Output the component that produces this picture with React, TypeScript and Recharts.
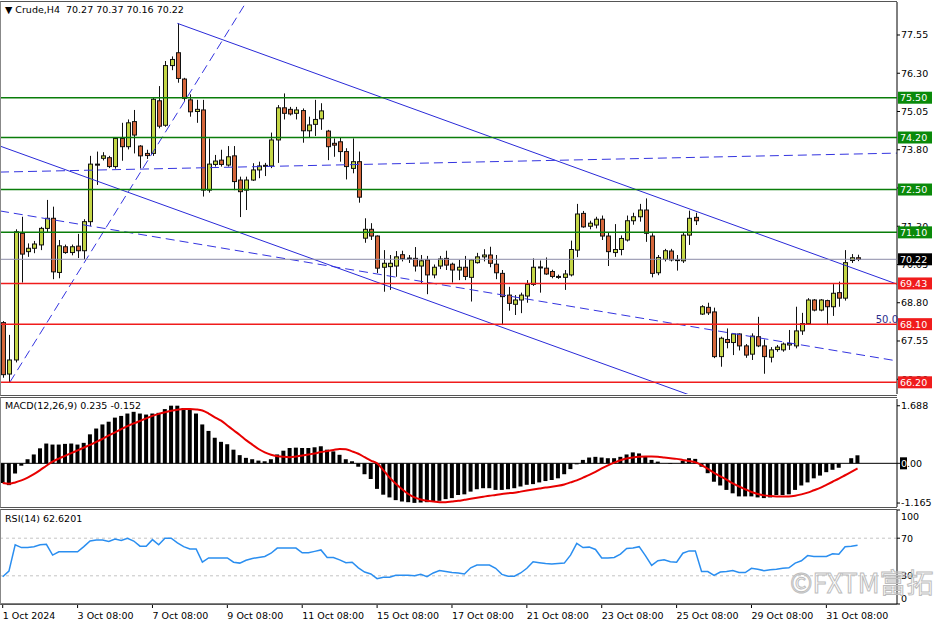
import React from 'react';
import {
  ComposedChart,
  Bar,
  Line,
  XAxis,
  YAxis,
  ReferenceLine,
  ReferenceDot,
} from 'recharts';

const FONT = '"DejaVu Sans", Tahoma, sans-serif';
const W = 936;
const AXIS_W = 39;
const XMIN = -0.433;
const XMAX = 143.32;
const PMIN = 65.818;
const PMAX = 78.628;

const BULL = '#c4d646';
const BEAR = '#d4663a';

// H4 candles, 1 Oct 2024 -> 1 Nov 2024
const opens = [
  68.15, 66.47, 66.93, 71.07, 70.47, 70.58, 70.69, 71.23, 71.56, 69.79,
  70.63, 70.44, 70.65, 70.5, 71.45, 73.33, 73.52, 73.54, 73.25, 74.17,
  73.9, 74.72, 73.92, 73.68, 73.68, 75.4, 74.6, 76.55, 76.97, 76.11,
  75.43, 75.05, 75.1, 72.48, 73.32, 73.46, 73.3, 73.6, 72.81, 72.48,
  72.81, 73.14, 73.27, 73.27, 74.12, 75.17, 75.12, 74.99, 75.08, 74.42,
  74.63, 74.81, 74.41, 74.01, 74.06, 73.74, 73.19, 73.41, 70.91, 71.2,
  70.98, 69.96, 69.98, 70.0, 70.37, 70.25, 70.25, 70.0, 70.2, 69.71,
  70.0, 70.25, 70.06, 69.87, 69.96, 69.63, 70.11, 70.3, 70.36, 70.06,
  69.76, 69.05, 68.75, 68.89, 69.02, 69.4, 69.96, 69.93, 69.82, 69.66,
  69.63, 69.71, 70.52, 71.72, 71.3, 71.34, 71.53, 70.98, 70.44, 70.54,
  70.85, 71.48, 71.61, 71.83, 70.98, 69.78, 70.22, 70.49, 70.2, 70.17,
  71.01, 71.59, 68.43, 68.65, 68.5, 67.04, 67.6, 67.5, 67.78, 67.39,
  67.12, 67.69, 67.39, 67.02, 67.27, 67.26, 67.42, 67.39, 67.88, 68.12,
  68.89, 68.56, 68.87, 68.67, 69.13, 68.95, 70.18, 70.27,
];
const highs = [
  68.2, 67.75, 71.2, 71.61, 70.74, 70.82, 71.28, 72.16, 71.94, 70.85,
  70.7, 70.7, 71.05, 71.53, 73.6, 73.74, 73.72, 73.6, 74.2, 74.68,
  74.79, 75.1, 73.95, 73.8, 75.5, 75.88, 76.7, 76.85, 77.93, 76.15,
  75.61, 75.43, 75.43, 74.17, 73.63, 73.8, 73.92, 73.92, 72.92, 72.92,
  73.36, 73.41, 73.37, 74.36, 75.26, 75.64, 75.2, 75.2, 75.15, 74.88,
  75.43, 75.32, 74.45, 74.17, 74.2, 73.85, 74.17, 73.74, 71.56, 71.4,
  71.0, 70.52, 70.36, 70.49, 70.5, 70.36, 70.62, 70.36, 70.33, 70.05,
  70.33, 70.5, 70.11, 70.2, 70.33, 70.22, 70.43, 70.55, 70.63, 70.36,
  69.87, 69.32, 69.05, 69.13, 69.54, 70.25, 70.18, 70.28, 69.88, 69.72,
  69.87, 70.83, 72.03, 71.8, 71.48, 71.61, 71.65, 71.08, 71.37, 71.0,
  71.65, 71.74, 72.03, 72.21, 71.07, 70.36, 70.56, 70.56, 70.36, 71.1,
  71.81, 71.74, 68.72, 68.8, 68.64, 67.69, 67.96, 67.8, 67.8, 67.45,
  67.8, 68.34, 67.6, 67.35, 67.42, 67.5, 67.91, 68.67, 68.47, 68.95,
  68.92, 68.92, 68.9, 69.41, 69.49, 70.52, 70.39, 70.37,
];
const lows = [
  66.35, 66.2, 66.85, 69.46, 70.3, 70.42, 70.52, 71.08, 69.57, 69.6,
  70.4, 70.35, 70.26, 70.22, 71.3, 72.65, 73.45, 73.2, 73.18, 73.44,
  73.81, 73.68, 73.19, 73.5, 73.6, 74.5, 74.55, 76.4, 75.99, 75.4,
  74.88, 74.68, 72.27, 72.4, 73.25, 73.25, 73.25, 72.48, 71.6, 71.83,
  72.78, 72.87, 72.94, 73.2, 73.37, 74.79, 74.92, 74.79, 74.03, 74.2,
  74.25, 74.45, 73.46, 73.57, 73.41, 72.83, 73.03, 72.07, 70.76, 70.85,
  69.77, 69.16, 69.22, 69.65, 70.15, 70.1, 69.82, 69.44, 69.08, 69.6,
  69.9, 69.87, 69.46, 69.54, 69.54, 68.84, 70.08, 70.15, 69.96, 69.57,
  68.07, 68.54, 68.4, 68.46, 68.8, 69.35, 69.13, 69.71, 69.6, 69.58,
  69.22, 69.66, 70.29, 71.25, 71.2, 71.23, 70.85, 70.0, 70.3, 70.35,
  70.8, 71.35, 71.45, 70.79, 69.63, 69.7, 70.15, 70.15, 69.85, 70.1,
  70.69, 71.34, 68.4, 68.4, 66.99, 66.71, 67.31, 67.09, 67.24, 67.0,
  66.93, 67.35, 66.48, 66.85, 67.2, 67.2, 67.26, 67.31, 67.75, 68.1,
  68.52, 68.52, 68.07, 68.37, 68.67, 68.87, 70.1, 70.16,
];
const closes = [
  66.45, 66.93, 71.12, 70.39, 70.58, 70.72, 71.23, 71.56, 69.81, 70.66,
  70.44, 70.63, 70.5, 71.45, 73.33, 73.3, 73.6, 73.25, 74.17, 73.9,
  74.68, 74.28, 73.6, 73.61, 75.45, 74.57, 76.55, 76.75, 76.13, 75.48,
  75.04, 75.12, 72.48, 73.33, 73.43, 73.32, 73.57, 72.76, 72.43, 72.81,
  73.14, 73.27, 73.29, 74.12, 75.17, 74.99, 74.97, 75.1, 74.42, 74.61,
  74.79, 75.07, 73.9, 73.95, 73.74, 73.25, 73.41, 72.25, 71.2, 70.98,
  69.93, 70.09, 70.09, 70.3, 70.24, 70.26, 70.0, 70.17, 69.71, 69.96,
  70.23, 70.03, 69.87, 69.96, 69.66, 70.2, 70.3, 70.36, 70.09, 69.78,
  69.0, 68.78, 68.89, 69.05, 69.4, 69.96, 69.97, 69.74, 69.66, 69.64,
  69.74, 70.54, 71.7, 71.28, 71.4, 71.53, 70.98, 70.47, 70.54, 70.9,
  71.48, 71.61, 71.83, 71.07, 69.76, 70.28, 70.5, 70.2, 70.21, 71.01,
  71.56, 71.48, 68.67, 68.47, 67.04, 67.64, 67.5, 67.78, 67.39, 67.09,
  67.71, 67.39, 67.04, 67.26, 67.35, 67.45, 67.47, 67.88, 68.12, 68.89,
  68.56, 68.89, 68.67, 69.11, 68.95, 70.11, 70.27, 70.22,
];

// MACD(12,26,9): main (histogram) and signal
const macdMain = [
  -0.58, -0.64, -0.3, -0.07, 0.12, 0.26, 0.44, 0.58, 0.55, 0.55,
  0.57, 0.58, 0.55, 0.6, 0.85, 1.02, 1.14, 1.22, 1.34, 1.39,
  1.46, 1.51, 1.46, 1.43, 1.46, 1.48, 1.59, 1.69, 1.69, 1.62,
  1.58, 1.46, 1.14, 0.95, 0.75, 0.63, 0.56, 0.4, 0.24, 0.16,
  0.12, 0.08, 0.06, 0.12, 0.26, 0.37, 0.45, 0.46, 0.45, 0.45,
  0.47, 0.5, 0.4, 0.35, 0.25, 0.12, 0.06, -0.1, -0.32, -0.46,
  -0.75, -0.92, -1.0, -1.08, -1.12, -1.14, -1.16, -1.15, -1.14, -1.12,
  -1.1, -1.05, -1.02, -0.93, -0.91, -0.83, -0.76, -0.73, -0.73, -0.78,
  -0.78, -0.76, -0.73, -0.68, -0.63, -0.61, -0.56, -0.52, -0.49, -0.44,
  -0.32, -0.17, -0.03, 0.1, 0.17, 0.19, 0.17, 0.15, 0.15, 0.19,
  0.26, 0.32, 0.29, 0.19, 0.1, 0.05, 0.0, -0.02, 0.0, 0.07,
  0.15, 0.13, -0.1, -0.29, -0.54, -0.65, -0.78, -0.88, -0.97, -0.97,
  -0.97, -1.0, -1.02, -1.0, -0.93, -0.93, -0.91, -0.78, -0.65, -0.56,
  -0.44, -0.36, -0.26, -0.19, -0.13, 0.0, 0.15, 0.235,
];
const macdSignal = [
  -0.58, -0.6, -0.56, -0.5, -0.42, -0.32, -0.2, -0.07, 0.05, 0.14,
  0.22, 0.3, 0.38, 0.46, 0.54, 0.63, 0.72, 0.82, 0.91, 1.0,
  1.09, 1.17, 1.24, 1.32, 1.39, 1.45, 1.5, 1.54, 1.57, 1.59,
  1.59, 1.58, 1.55, 1.46, 1.35, 1.25, 1.11, 0.97, 0.83, 0.68,
  0.55, 0.42, 0.32, 0.25, 0.21, 0.19, 0.18, 0.2, 0.23, 0.26,
  0.29, 0.33, 0.36, 0.39, 0.42, 0.41, 0.35, 0.28, 0.18, 0.08,
  0.0, -0.2, -0.42, -0.6, -0.76, -0.9, -1.0, -1.06, -1.1, -1.12,
  -1.14, -1.14, -1.12, -1.1, -1.07, -1.04, -1.01, -0.98, -0.95, -0.93,
  -0.9, -0.88, -0.86, -0.83, -0.8, -0.77, -0.74, -0.71, -0.69, -0.66,
  -0.62, -0.56, -0.5, -0.42, -0.34, -0.25, -0.15, -0.06, 0.02, 0.09,
  0.14, 0.17, 0.19, 0.2, 0.2, 0.19, 0.17, 0.15, 0.13, 0.1,
  0.07, 0.03, -0.05, -0.16, -0.28, -0.38, -0.48, -0.59, -0.68, -0.76,
  -0.84, -0.9, -0.94, -0.96, -0.97, -0.97, -0.97, -0.95, -0.91, -0.86,
  -0.79, -0.72, -0.63, -0.54, -0.45, -0.35, -0.25, -0.152,
];

// RSI(14)
const rsiValues = [
  29, 35, 63, 60, 60, 61, 63, 63.5, 52, 55.5,
  55.5, 55.5, 55.5, 61, 67, 68, 68, 66.5, 69, 67.5,
  70, 67, 61.5, 61.5, 68.5, 63, 70, 70, 65, 61,
  58.5, 58.5, 44.5, 49, 49, 49, 49, 44.5, 43.5, 46.5,
  48.5, 49.5, 50.5, 54, 59.5, 59.5, 59.5, 59.5, 54.5, 54.5,
  56, 57.5, 49.5, 49.5, 47, 44, 44.5, 38.5, 34, 32,
  27, 28.5, 28.5, 30.5, 30.5, 30.5, 30, 31.5, 29, 33,
  35.5, 34.5, 33.5, 33, 32, 38.5, 41.5, 41.5, 41.5, 38,
  31.5, 29.5, 29.5, 33, 38, 45, 44, 43, 42.5, 43,
  43.5, 52, 64.5, 60, 60.5, 58, 49, 49, 49.5, 53,
  59, 59.5, 61, 51.5, 41, 46, 47, 45, 44.5, 54,
  56.5, 56.5, 34.5, 34.5, 30.5, 34, 34.5, 35.5, 33.5, 33.5,
  38, 37, 35.5, 36.5, 37, 38, 38.5, 43.5, 46, 51.5,
  50.5, 50.5, 50.5, 53.5, 53, 61, 61.5, 62.62,
];

const timeLabels = [
  '1 Oct 2024', '3 Oct 08:00', '7 Oct 08:00', '9 Oct 08:00', '11 Oct 08:00', '15 Oct 08:00',
  '17 Oct 08:00', '21 Oct 08:00', '23 Oct 08:00', '25 Oct 08:00', '29 Oct 08:00', '31 Oct 08:00',
];
const LABEL_STEP = 12;

const priceTicks = [77.55, 76.3, 75.05, 73.8, 72.55, 71.3, 70.05, 68.8, 67.55, 66.3];
const resistance = [75.5, 74.2, 72.5, 71.1];
const support = [69.43, 68.1, 66.2];
const bid = closes[closes.length - 1];

// trend lines as [bar index, price] end points
const solidTrends = [
  [[28, 77.93], [143.3, 69.41]],
  [[-0.43, 73.92], [143.3, 63.34]],
];
const dashedTrends = [
  [[-0.43, 71.8], [143.3, 66.9]],
  [[-0.43, 73.07], [143.3, 73.69]],
  [[1.17, 66.21], [41, 79.27]],
];
const fibMark = { i: 141.7, p: 68.27, text: '50.0' };

const macdTicks = [1.688, 0, -1.165];
const rsiTicks = [100, 70, 30, 0];

const candles = opens.map((o, i) => ({
  i,
  o,
  h: highs[i],
  l: lows[i],
  c: closes[i],
  range: [lows[i], highs[i]],
}));
const macdData = macdMain.map((v, i) => ({ i, hist: v, sig: macdSignal[i] }));
const rsiData = rsiValues.map((v, i) => ({ i, rsi: v }));

const Candle = (props: any) => {
  const { x, y, width, height, payload } = props;
  if (!payload) return null;
  const top = Math.min(y, y + height);
  const span = Math.abs(height);
  const { o, h, l, c } = payload;
  const k = h - l > 0 ? span / (h - l) : 0;
  const yo = top + (h - o) * k;
  const yc = top + (h - c) * k;
  const cx = Math.round(x + width / 2) + 0.5;
  const bTop = Math.min(yo, yc);
  const bH = Math.max(Math.abs(yo - yc), 1);
  return (
    <g>
      <line x1={cx} x2={cx} y1={top} y2={top + span} stroke="#111" strokeWidth={1} />
      <rect x={cx - 2} y={bTop} width={4} height={bH} fill={c >= o ? BULL : BEAR} stroke="#111" strokeWidth={1} />
    </g>
  );
};

const LevelTag = (props: any) => {
  const { viewBox, text, bg } = props;
  if (!viewBox) return null;
  const xx = viewBox.x + viewBox.width + 1;
  const yy = viewBox.y;
  return (
    <g>
      <rect x={xx} y={yy - 6} width={34} height={12} fill={bg} />
      <text x={xx + 2} y={yy} dy="0.36em" fill="#fff" fontSize={9.5} fontFamily={FONT}>
        {text}
      </text>
    </g>
  );
};

const PriceTick = (props: any) => {
  const { x, y, payload } = props;
  return (
    <text x={x} y={y} dy="0.36em" textAnchor="start" fontSize={9.5} fontFamily={FONT} fill="#000">
      {Number(payload.value).toFixed(2)}
    </text>
  );
};

const MacdTick = (props: any) => {
  const { x, y, payload } = props;
  const v = Number(payload.value);
  if (v === 0) {
    return (
      <g>
        <rect x={x - 1} y={y - 6} width={7} height={12} fill="#000" />
        <text x={x} y={y} dy="0.36em" textAnchor="start" fontSize={9.5} fontFamily={FONT} fill="#000">
          <tspan fill="#fff">0</tspan>.00
        </text>
      </g>
    );
  }
  return (
    <text x={x} y={y} dy="0.36em" textAnchor="start" fontSize={9.5} fontFamily={FONT} fill="#000">
      {v.toFixed(3)}
    </text>
  );
};

const RsiTick = (props: any) => {
  const { x, y, payload } = props;
  const v = Number(payload.value);
  const shift = v >= 100 ? 7 : v <= 0 ? -5 : 0;
  return (
    <text x={x} y={y + shift} dy="0.36em" textAnchor="start" fontSize={9.5} fontFamily={FONT} fill="#000">
      {v}
    </text>
  );
};

const TimeTick = (props: any) => {
  const { x, y, payload } = props;
  return (
    <text x={x} y={y + 9} textAnchor="start" fontSize={9.5} fontFamily={FONT} fill="#000">
      {timeLabels[Math.round(payload.value / LABEL_STEP)]}
    </text>
  );
};

const boxStyle = (top: number, height: number): React.CSSProperties => ({
  position: 'absolute',
  left: 0,
  top,
  width: 896,
  height,
  borderTop: '1px solid #555',
  borderLeft: '1px solid #888',
  borderBottom: '1px solid #555',
  pointerEvents: 'none',
});

const caption: React.CSSProperties = {
  position: 'absolute',
  left: 5,
  fontFamily: FONT,
  fontSize: 9.5,
  color: '#000',
  whiteSpace: 'pre',
};

const layer: React.CSSProperties = { position: 'absolute', left: 0, top: 0 };

export default function App() {
  const xTicks = timeLabels.map((_, k) => k * LABEL_STEP);
  return (
    <div style={{ position: 'fixed', left: 0, top: 0, width: W, height: 624, background: '#fff', overflow: 'hidden' }}>
      {/* price panel */}
      <div style={layer}>
        <ComposedChart width={W} height={396} data={candles} margin={{ top: 2, right: 0, bottom: 2, left: 0 }}>
          <XAxis dataKey="i" type="number" domain={[XMIN, XMAX]} allowDataOverflow hide />
          <YAxis
            orientation="right"
            width={AXIS_W}
            domain={[PMIN, PMAX]}
            allowDataOverflow
            ticks={priceTicks}
            interval={0}
            tickSize={3}
            tickMargin={1}
            tick={<PriceTick />}
            axisLine={{ stroke: '#000' }}
            tickLine={{ stroke: '#000' }}
          />
          {solidTrends.map((s, k) => (
            <ReferenceLine
              key={'s' + k}
              segment={[{ x: s[0][0], y: s[0][1] }, { x: s[1][0], y: s[1][1] }]}
              stroke="#2a2ad8"
              strokeWidth={1}
              ifOverflow="hidden"
            />
          ))}
          {dashedTrends.map((s, k) => (
            <ReferenceLine
              key={'d' + k}
              segment={[{ x: s[0][0], y: s[0][1] }, { x: s[1][0], y: s[1][1] }]}
              stroke="#3434e0"
              strokeWidth={1}
              strokeDasharray="9 5"
              ifOverflow="hidden"
            />
          ))}
          <Bar dataKey="range" shape={Candle} barSize={5} isAnimationActive={false} />
          <ReferenceDot
            x={fibMark.i}
            y={fibMark.p}
            r={0}
            fill="none"
            stroke="none"
            label={{ value: fibMark.text, position: 'center', fill: '#2d2d8c', fontSize: 10, fontFamily: FONT }}
          />
        </ComposedChart>
      </div>

      {/* horizontal levels with price tags, drawn over the price axis */}
      <div style={layer}>
        <ComposedChart width={W} height={396} data={candles} margin={{ top: 2, right: 0, bottom: 2, left: 0 }}>
          <XAxis dataKey="i" type="number" domain={[XMIN, XMAX]} allowDataOverflow hide />
          <YAxis
            orientation="right"
            width={AXIS_W}
            domain={[PMIN, PMAX]}
            allowDataOverflow
            tick={false}
            axisLine={false}
            tickLine={false}
          />
          {resistance.map((p) => (
            <ReferenceLine
              key={'r' + p}
              y={p}
              stroke="#0a7d0a"
              strokeWidth={1.5}
              label={<LevelTag text={p.toFixed(2)} bg="#0a8a0a" />}
            />
          ))}
          {support.map((p) => (
            <ReferenceLine
              key={'u' + p}
              y={p}
              stroke="#f01c1c"
              strokeWidth={1.5}
              label={<LevelTag text={p.toFixed(2)} bg="#f01c1c" />}
            />
          ))}
          <ReferenceLine y={bid} stroke="#8a8aa8" strokeWidth={1} label={<LevelTag text={bid.toFixed(2)} bg="#000" />} />
        </ComposedChart>
      </div>

      {/* MACD panel */}
      <div style={{ ...layer, top: 397 }}>
        <ComposedChart width={W} height={112} data={macdData} margin={{ top: 2, right: 0, bottom: 2, left: 0 }}>
          <XAxis dataKey="i" type="number" domain={[XMIN, XMAX]} allowDataOverflow hide />
          <YAxis
            orientation="right"
            width={AXIS_W}
            domain={[-1.281, 1.886]}
            allowDataOverflow
            ticks={macdTicks}
            interval={0}
            tickSize={3}
            tickMargin={1}
            tick={<MacdTick />}
            axisLine={{ stroke: '#000' }}
            tickLine={{ stroke: '#000' }}
          />
          <ReferenceLine y={0} stroke="#000" strokeWidth={1} />
          <Bar dataKey="hist" fill="#000" barSize={4} isAnimationActive={false} />
          <Line type="monotone" dataKey="sig" stroke="#e80000" strokeWidth={2} dot={false} isAnimationActive={false} />
        </ComposedChart>
      </div>

      {/* RSI panel */}
      <div style={{ ...layer, top: 508 }}>
        <ComposedChart width={W} height={116} data={rsiData} margin={{ top: 2, right: 0, bottom: 0, left: 0 }}>
          <XAxis
            dataKey="i"
            type="number"
            domain={[XMIN, XMAX]}
            allowDataOverflow
            ticks={xTicks}
            interval={0}
            height={20}
            tickSize={4}
            tick={<TimeTick />}
            axisLine={{ stroke: '#000' }}
            tickLine={{ stroke: '#000' }}
          />
          <YAxis
            orientation="right"
            width={AXIS_W}
            domain={[0, 100]}
            allowDataOverflow
            ticks={rsiTicks}
            interval={0}
            tickSize={3}
            tickMargin={1}
            tick={<RsiTick />}
            axisLine={{ stroke: '#000' }}
            tickLine={{ stroke: '#000' }}
          />
          <ReferenceLine y={70} stroke="#c4c4c4" strokeDasharray="3 3" />
          <ReferenceLine y={30} stroke="#c4c4c4" strokeDasharray="3 3" />
          <Line type="linear" dataKey="rsi" stroke="#2a8ef0" strokeWidth={1.5} dot={false} isAnimationActive={false} />
        </ComposedChart>
      </div>

      <div style={boxStyle(1, 393)} />
      <div style={boxStyle(397, 109)} />
      <div style={boxStyle(509, 94)} />

      <div style={{ ...caption, top: 4 }}>{'\u25BC Crude,H4  70.27 70.37 70.16 70.22'}</div>
      <div style={{ ...caption, top: 400 }}>MACD(12,26,9) 0.235 -0.152</div>
      <div style={{ ...caption, top: 513 }}>RSI(14) 62.6201</div>

      <div
        style={{
          position: 'absolute',
          left: 790,
          top: 562,
          fontFamily: '"Noto Sans CJK SC", "Noto Sans", sans-serif',
          fontSize: 27,
          color: 'rgba(255,255,255,0)',
          WebkitTextStroke: '1px #bdbdbd',
          whiteSpace: 'nowrap',
          pointerEvents: 'none',
        }}
      >
        ©FXTM富拓
      </div>
    </div>
  );
}
